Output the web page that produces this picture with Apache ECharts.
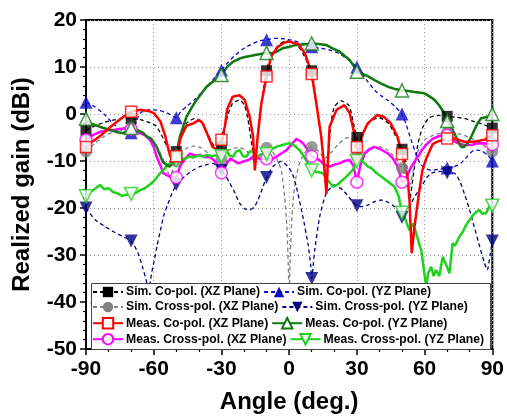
<!DOCTYPE html>
<html><head><meta charset="utf-8">
<script src="https://cdn.jsdelivr.net/npm/echarts@6/dist/echarts.min.js"></script>
<style>html,body{margin:0;padding:0;background:#fff}#c{width:507px;height:420px}</style>
</head><body><div id="c"></div>
<script>
// ---------- data ----------
const xTicks = [-90, -60, -30, 0, 30, 60, 90];
const yTicks = [-50, -40, -30, -20, -10, 0, 10, 20];
const markerAngles = [-90, -70, -50, -30, -10, 10, 30, 50, 70, 90];

const simCoXZ = [[-90,-3.5],[-86,-2.5],[-82,-1.8],[-78,-1.3],[-74,-1],[-70,-1],[-66,-1.2],[-62,-1.8],[-59,-2.5],[-56,-5],[-53.5,-7.5],[-51.5,-9.5],[-50,-8],[-48.5,-5],[-45.5,-2],[-42,-1],[-39,-1.5],[-36.5,-3.8],[-34,-6.2],[-32,-7.7],[-30,-7],[-28.5,-3],[-27,0],[-25,2.3],[-22,3],[-19.7,1.8],[-18.2,-1.3],[-16.7,-6],[-15.3,-10.5],[-14,-5],[-12.5,1.5],[-10,9.2],[-8,12.5],[-5,14.5],[-2,15.5],[0,15.5],[3,15],[6,13],[8,11],[10,9.2],[12,3],[14,-4],[15.5,-11],[16.5,-16],[17.5,-8],[18.5,-2],[20,1.5],[23,2.8],[26.5,1.8],[28.5,-2],[30,-5],[31.5,-7],[33,-4],[36,-1.5],[40,-0.8],[44,-2],[47,-4.5],[50,-7.5],[52,-11],[53.5,-18],[55,-13],[57,-6.5],[59,-3],[62,-0.8],[66,-0.3],[70,-0.5],[74,-0.7],[78,-1],[82,-1.6],[86,-2.2],[90,-3]];
const simCrossXZ = [[-90,-8],[-86,-6.2],[-82,-4.8],[-78,-3.8],[-74,-3.2],[-70,-3],[-66,-3.5],[-62,-5],[-58,-7.5],[-55,-10.5],[-53,-13],[-51.5,-12],[-50,-10],[-48,-8.2],[-45,-7.2],[-42,-6.8],[-39,-7.2],[-36,-8.3],[-33,-9.8],[-31,-10.5],[-30,-9.5],[-28,-8],[-25,-7.3],[-22,-7.2],[-19,-7.8],[-16.5,-9.5],[-15,-10.5],[-13,-8.5],[-10,-7.2],[-7.5,-8],[-5.5,-9.5],[-3.5,-12],[-2,-17.6],[-1,-24],[-0.3,-34],[0,-42],[0.3,-34],[1,-24],[2,-17],[3,-13.5],[4.6,-10.5],[6.5,-8.5],[8.3,-7.5],[10,-7],[12,-7.5],[14,-8.5],[15.5,-9.5],[17,-9],[19,-8],[22,-6.3],[25,-5.2],[27,-5],[28.5,-5.8],[30,-9],[32,-10],[34,-8.5],[37,-7.2],[40,-7],[43,-7.5],[46,-8.8],[48,-10],[50,-11.5],[52,-13.5],[53.5,-15],[55,-12],[57,-8],[60,-5.5],[64,-4.5],[68,-4],[72,-4],[76,-4.3],[80,-5],[84,-6],[87,-7],[90,-8]];
const simCoYZ = [[-90,2.5],[-86,1.5],[-82,0],[-78,-2],[-74,-3.5],[-70,-4],[-68,-2],[-66,0.2],[-62,0.9],[-58,0.8],[-54,0.2],[-50,-0.8],[-48,0.5],[-45,1.8],[-42,3],[-39,4.5],[-36,6],[-32,8.3],[-30,9.3],[-27,11],[-24,12.5],[-20,14],[-16,15],[-13,15.6],[-10,15.8],[-6,16.1],[-2,16],[2,15.6],[6,15],[10,14.3],[14,14],[18,13.6],[22,12.9],[26,11.6],[30,10],[32,8.7],[35,6.8],[38,5],[41,3.8],[44,2.8],[47,1.5],[50,0],[52,-2.5],[54,-5.5],[56,-8.2],[58,-10.5],[60,-11.5],[63,-12],[66,-11.8],[70,-11.5],[73,-11.2],[76,-10.5],[79,-9],[82,-7.7],[85,-7.8],[88,-8.8],[90,-10]];
const simCrossYZ = [[-90,-20],[-86,-22.5],[-82,-23.8],[-78,-25],[-74,-26],[-70,-27],[-67,-29.5],[-65,-32.5],[-63,-36],[-62.3,-38],[-61,-34],[-60,-31.7],[-58.5,-28],[-57,-24.7],[-55.5,-21.5],[-54,-19.5],[-52,-17],[-50,-15],[-48,-14],[-45.5,-13],[-42,-11.8],[-39.6,-11.2],[-36,-10.7],[-33.8,-10.5],[-32,-11],[-30,-12],[-28,-13.3],[-26.3,-14.7],[-24,-16.8],[-21.9,-19],[-19.5,-20.2],[-17.5,-20.4],[-15.5,-19.8],[-13.8,-18.3],[-12,-16],[-10,-13.5],[-7.2,-11.2],[-3.5,-10.1],[-0.5,-11.2],[1.5,-12.8],[3.2,-15.5],[6.1,-21.9],[8.3,-27.5],[9.5,-32],[10,-35],[10.5,-33],[11.3,-29],[13.5,-21.9],[16.4,-16.9],[20,-15.1],[23.8,-16.2],[27.5,-18.3],[30,-19.5],[32,-19.7],[34.9,-19.4],[38,-18.6],[40.8,-18.3],[43,-18.6],[45.9,-19.4],[48,-20.5],[50,-22],[51.5,-21],[54,-19],[56,-17.3],[58.5,-15.5],[61,-13.5],[63,-12.6],[67,-12.2],[70,-12.5],[73.2,-12.6],[75.5,-14.2],[77.6,-16.9],[80,-20.5],[82,-24],[84,-27.5],[86.5,-31.7],[87.8,-33.2],[89,-30],[90,-27]];
const measCoXZ = [[-90,-7],[-87,-5.8],[-84,-4.8],[-81,-3.5],[-78,-2.3],[-74,-0.8],[-70,0.5],[-66,0.9],[-62,0.6],[-60,0.2],[-57,-1.6],[-55,-4.5],[-53,-8.5],[-51.5,-10.5],[-50,-9],[-48,-5],[-45.5,-2.5],[-42.5,-2],[-40,-1.3],[-38.5,-1.8],[-36.5,-4],[-34,-7],[-32,-7.5],[-30,-5.5],[-28.5,-2.7],[-27.5,0.9],[-25,3.7],[-22,4],[-19.7,3],[-17.5,-0.6],[-16,-4.8],[-15.2,-12],[-14,-5],[-12.3,2.3],[-10,8],[-8,12.2],[-5,14.3],[-2,15.2],[0,15.4],[4,14.9],[7,12.9],[9,10],[10,8.5],[12,2.3],[14.2,-4.8],[15.7,-12],[16.5,-17],[17.9,-2.7],[21,0.9],[24.5,1.9],[26.8,0.2],[28.2,-2.7],[30,-7],[31,-9],[32,-4.8],[34.8,-2],[39,-0.2],[42,-0.6],[45,-2],[48,-4.8],[50,-8.5],[52.4,-13.3],[53.3,-18.3],[54.3,-29.6],[55.5,-24],[57.7,-16.2],[59,-12],[60.7,-9.5],[63.6,-6.4],[66,-5.8],[68.8,-5.5],[70,-5.2],[73,-5.2],[77.6,-5.9],[82,-5.9],[86.5,-5.5],[90,-4.5]];
const measCrossXZ = [[-90,-5.5],[-87,-4.5],[-83.8,-3.8],[-80,-3.4],[-78,-3.4],[-75,-3.2],[-72,-3],[-70,-3.3],[-67.6,-3.8],[-64,-4.5],[-61.7,-5.5],[-60,-7],[-58.7,-9.1],[-57,-11],[-55.8,-12.6],[-52.9,-13.3],[-50,-13.5],[-48.4,-11.2],[-46,-9.5],[-44,-8.4],[-42,-8.8],[-39.6,-8.7],[-37,-9.2],[-35.2,-9.1],[-33,-10],[-32.2,-10.5],[-30,-12.5],[-28.5,-11],[-27.8,-10.5],[-26,-9.5],[-24.9,-9.8],[-22.5,-10.5],[-20.4,-10.1],[-18,-9.8],[-16,-9.1],[-13,-9.5],[-10,-9.5],[-8,-9.8],[-5.7,-9.1],[-3.5,-8.4],[-1.2,-7.7],[1,-6.5],[3.2,-5.3],[5,-5.8],[6.1,-6.2],[8,-7.5],[10,-9],[12,-9.5],[13.5,-9.8],[15.5,-10.8],[17.9,-11.2],[20,-10.8],[22.3,-10.5],[24.5,-10],[26.8,-9.8],[28.5,-11],[30,-14.5],[31.5,-11],[33.4,-8.4],[35.5,-7.5],[37.8,-7],[40.5,-7.5],[43.7,-8.4],[46,-9.5],[48.1,-11.2],[50,-14.5],[51.5,-14],[53.3,-12],[55,-10.5],[57,-9.1],[59,-7.5],[61.4,-6.2],[63.5,-5.3],[65.8,-4.8],[68,-4.5],[70,-4.5],[72,-5.5],[74.7,-6.2],[77.5,-6.6],[80.6,-6.6],[83,-6.3],[85,-6.2],[87.5,-6.3],[90,-6.5]];
const measCoYZ = [[-90,-1.5],[-88,-2],[-84,-2.7],[-80,-3.3],[-76,-3.9],[-73.5,-4.1],[-70,-3],[-67.6,-3.4],[-65,-3.9],[-63,-4.8],[-61,-5.3],[-58.7,-7],[-56,-10.2],[-53,-11.2],[-51.5,-10.5],[-50,-8.7],[-48.4,-4.8],[-45.5,-0.6],[-43,1.5],[-41,3],[-38.5,4.6],[-36.6,5.8],[-34,6.8],[-32.2,7.6],[-30,8.3],[-27.5,10],[-25,11.1],[-22,11.8],[-19,12.2],[-14.5,12.6],[-10,13],[-7.2,12.9],[-5,13.4],[-2.7,14],[0,14.3],[3.2,14.7],[6,14.8],[10,15],[13,14.9],[16.4,14.7],[19,14],[22.3,13.3],[24.5,12.4],[26.8,11.5],[28.5,10.3],[30,9],[31.9,8.7],[35,8],[37.8,7.2],[41,6.4],[43.7,5.8],[47,5.3],[50,5],[53,4.9],[55.5,4.7],[59.9,4.4],[62,3.8],[64.4,3],[66.5,1.8],[68.8,0.1],[70,-1.5],[71.5,-2.5],[73.2,-4.1],[75,-6],[76.2,-7],[77.5,-7],[79.1,-6.2],[80.5,-5],[82,-3.4],[83.5,-2],[85,-0.9],[88,-0.6],[90,0]];
const measCrossYZ = [[-90,-17.5],[-88,-16.5],[-86.8,-16.2],[-85,-15.5],[-83.8,-15.1],[-82,-16],[-80,-15.8],[-78,-16.6],[-76,-16.9],[-74,-17.4],[-72,-17.2],[-70,-17],[-68,-16.8],[-66,-16.2],[-64,-15.8],[-61.7,-15],[-60,-14.3],[-58.7,-13.5],[-57,-12.5],[-55.8,-11.9],[-54,-11],[-52.9,-10.5],[-51,-10],[-50,-9.8],[-48.4,-9.4],[-46,-9.5],[-44,-9],[-42.6,-9.3],[-40,-8.8],[-38,-9.1],[-36.6,-8.7],[-34,-9],[-32.2,-8.7],[-30,-9],[-27.8,-7.7],[-26.5,-8.8],[-24.9,-9.1],[-23.5,-8],[-21.9,-7.7],[-20.5,-9],[-19,-9.1],[-17.5,-8],[-16,-8],[-14.5,-9.2],[-12.5,-8.6],[-10,-8.5],[-8,-7.6],[-5.7,-7],[-3,-6.6],[0.2,-6.2],[2.5,-6.8],[4.6,-7.7],[6.5,-9],[8.3,-10.5],[10,-12],[12,-12.3],[14.9,-12.6],[17,-14],[19.4,-15.5],[21.5,-15],[23.8,-14],[26,-13],[28.2,-11.9],[30,-10],[31.9,-9.8],[34.9,-11.2],[36.4,-11.5],[38.5,-12.5],[40.8,-13.3],[43.5,-14.3],[46.7,-15.5],[48.5,-17.5],[50,-21],[51.1,-21.9],[52.3,-23.5],[53.3,-24.7],[54.8,-23.3],[56.3,-25.4],[57.5,-27.5],[58.5,-28.9],[59.9,-33.9],[60.7,-37],[61.5,-34],[62.9,-32.5],[64,-34.5],[65.1,-33.2],[66.5,-34.5],[68,-30.4],[69.5,-32],[71,-33.9],[72.4,-27.5],[73.5,-28],[75.4,-26.1],[77,-25],[78.5,-23.5],[79.8,-22.6],[81.5,-21.5],[83,-20.8],[84.2,-20.4],[85.5,-21.2],[87.2,-21.1],[88.5,-19.8],[90,-19.5]];

// marker values at markerAngles
const simCoXZMk      = [-3.5, -1, -8, -7, 9.2, 9.2, -5, -7.5, -0.5, -3];
const simCrossXZMk   = [-8, -3, -10, -9.5, -7.2, -7, -9, -11.5, -4, -8];
const simCoYZMk      = [2.5, -4, -0.8, 9.3, 15.8, 14.3, 10, 0, -11.5, -10];
const simCrossYZMk   = [-20, -27, -15, -12, -13.5, -35, -19.5, -22, -12.5, -27];
const measCoXZMk     = [-7, 0.5, -9, -5.5, 8, 8.5, -7, -8.5, -5.2, -4.5];
const measCrossXZMk  = [-5.5, -3.3, -13.5, -12.5, -9.5, -9, -14.5, -14.5, -4.5, -6.5];
const measCoYZMk     = [-1, -3, -8.7, 8.3, 13, 15, 9, 5, -1.5, 0];
const measCrossYZMk  = [-17.5, -17, -9.8, -9, -8.5, -12, -10, -21, null, -19.5];

const names = [
  'Sim. Co-pol. (XZ Plane)', 'Sim. Co-pol. (YZ Plane)',
  'Sim. Cross-pol. (XZ Plane)', 'Sim. Cross-pol. (YZ Plane)',
  'Meas. Co-pol. (XZ Plane)', 'Meas. Co-pol. (YZ Plane)',
  'Meas. Cross-pol. (XZ Plane)', 'Meas. Cross-pol. (YZ Plane)'
];

// ---------- styles ----------
const FONT = 'Arial, "Liberation Sans", sans-serif';
const defs = [
  {name: names[0], line: simCoXZ, mk: simCoXZMk, color: '#000000', dashed: true, sym: 'rect', rot: 0, open: false, size: 11},
  {name: names[2], line: simCrossXZ, mk: simCrossXZMk, color: '#808080', dashed: true, sym: 'circle', rot: 0, open: false, size: 12},
  {name: names[1], line: simCoYZ, mk: simCoYZMk, color: '#0b0bc8', dashed: true, sym: 'triangle', rot: 0, open: false, size: 13},
  {name: names[3], line: simCrossYZ, mk: simCrossYZMk, color: '#000080', dashed: true, sym: 'triangle', rot: 180, open: false, size: 13},
  {name: names[6], line: measCrossXZ, mk: measCrossXZMk, color: '#ff00ff', dashed: false, sym: 'circle', rot: 0, open: true, size: 12},
  {name: names[7], line: measCrossYZ, mk: measCrossYZMk, color: '#1ed21e', dashed: false, sym: 'triangle', rot: 180, open: true, size: 13},
  {name: names[5], line: measCoYZ, mk: measCoYZMk, color: '#0f7a0f', dashed: false, sym: 'triangle', rot: 0, open: true, size: 13},
  {name: names[4], line: measCoXZ, mk: measCoXZMk, color: '#ff0000', dashed: false, sym: 'rect', rot: 0, open: true, size: 11}
];

const series = [];
defs.forEach(function (d) {
  const itemStyle = d.open ? {color: '#ffffff', borderColor: d.color, borderWidth: 1.5} : {color: d.color};
  series.push({
    name: d.name, type: 'line', data: d.line, showSymbol: false,
    symbol: d.sym, symbolRotate: d.rot, symbolSize: d.size,
    smooth: d.dashed ? 0.2 : false,
    lineStyle: {color: d.color, width: d.dashed ? 1.3 : 2.5, type: d.dashed ? [4, 3] : 'solid'},
    itemStyle: itemStyle, z: d.dashed ? 2 : 3, silent: true, animation: false
  });
});
defs.forEach(function (d, i) {
  const pts = [];
  markerAngles.forEach(function (a, k) { if (d.mk[k] !== null) pts.push([a, d.mk[k]]); });
  const itemStyle = d.open ? {color: '#ffffff', borderColor: d.color, borderWidth: 1.5} : {color: d.color};
  series.push({
    name: 'mk' + i, type: 'scatter', data: pts, symbol: d.sym, symbolRotate: d.rot,
    symbolSize: d.size, itemStyle: itemStyle, z: 4, silent: true, animation: false
  });
});

const rowTops = [286, 301, 317, 333];
const legends = [0, 1, 2, 3].map(function (r) {
  return {
    data: [names[2 * r], names[2 * r + 1]], left: 92, top: rowTops[r], orient: 'horizontal',
    itemWidth: 30, itemHeight: 13, itemGap: 3, padding: 0, selectedMode: false, z: 10,
    textStyle: {fontFamily: FONT, fontWeight: 'bold', fontSize: 12.2, color: '#000', padding: [0, 0, 0, -2]}
  };
});

const chart = echarts.init(document.getElementById('c'), null, {renderer: 'canvas'});
chart.setOption({
  animation: false,
  backgroundColor: '#fff',
  grid: {left: 86, right: 12, top: 20, bottom: 71, show: true, borderColor: '#000', borderWidth: 2, backgroundColor: 'transparent'},
  legend: legends,
  graphic: [{
    type: 'rect', left: 91, top: 283, z: 9,
    shape: {width: 399, height: 66},
    style: {fill: '#fff', stroke: '#444', lineWidth: 1}
  }],
  xAxis: {
    type: 'value', min: xTicks[0], max: xTicks[xTicks.length - 1], interval: 30,
    name: 'Angle (deg.)', nameLocation: 'middle', nameGap: 41,
    nameTextStyle: {fontFamily: FONT, fontWeight: 'bold', fontSize: 24, color: '#000'},
    axisLine: {onZero: false, lineStyle: {color: '#000', width: 2}},
    axisTick: {inside: false, length: 6, lineStyle: {width: 1.5, color: '#000'}},
    minorTick: {show: true, splitNumber: 3, length: 3, lineStyle: {color: '#000', width: 1.2}},
    axisLabel: {fontFamily: FONT, fontWeight: 'bold', fontSize: 21, color: '#000', margin: 10},
    splitLine: {show: true, lineStyle: {color: '#999', type: [1, 3], width: 1}}
  },
  yAxis: {
    type: 'value', min: yTicks[0], max: yTicks[yTicks.length - 1], interval: 10,
    name: 'Realized gain (dBi)', nameLocation: 'middle', nameGap: 52,
    nameTextStyle: {fontFamily: FONT, fontWeight: 'bold', fontSize: 24, color: '#000'},
    axisLine: {onZero: false, lineStyle: {color: '#000', width: 2}},
    axisTick: {inside: false, length: 6, lineStyle: {width: 1.5, color: '#000'}},
    minorTick: {show: true, splitNumber: 5, length: 3, lineStyle: {color: '#000', width: 1.2}},
    axisLabel: {fontFamily: FONT, fontWeight: 'bold', fontSize: 21, color: '#000', margin: 9},
    splitLine: {show: true, lineStyle: {color: '#999', type: [1, 3], width: 1}}
  },
  series: series
});
</script></body></html>
